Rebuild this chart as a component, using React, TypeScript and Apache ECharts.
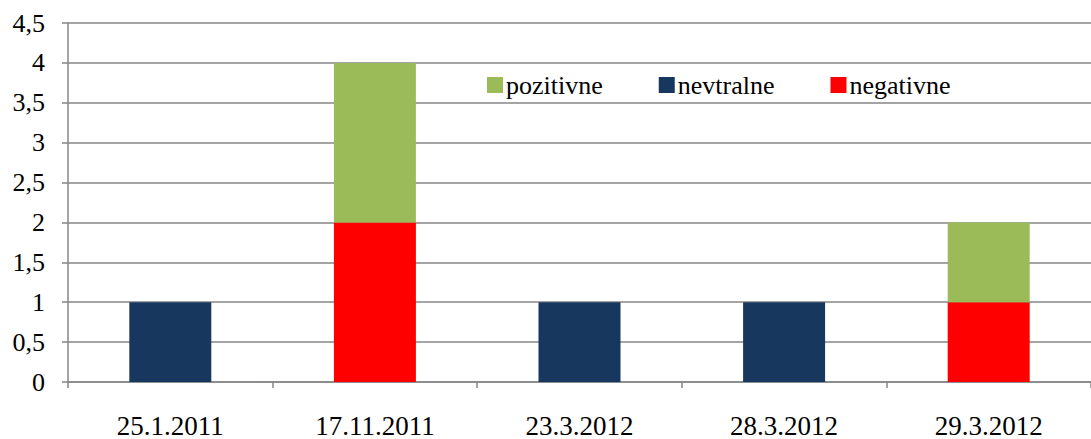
import React, { useEffect, useRef } from "react";
import * as echarts from "echarts";

const categories = ["25.1.2011", "17.11.2011", "23.3.2012", "28.3.2012", "29.3.2012"];
const negativne = [null, 2, null, null, 1];
const pozitivne = [null, 2, null, null, 1];
const nevtralne = [1, null, 1, 1, null];

const FONT = "Liberation Serif";
const GRAY = "#868686";

export default function App() {
  const ref = useRef<HTMLDivElement>(null);
  useEffect(() => {
    const chart = echarts.init(ref.current!, null, { renderer: "svg" });
    chart.setOption({
      animation: false,
      grid: { left: 68, top: 23, bottom: 52.5, right: -13, containLabel: false },
      legend: {
        left: 482,
        top: 67,
        icon: "rect",
        itemWidth: 16,
        itemHeight: 16,
        itemGap: 56,
        textStyle: { fontFamily: FONT, fontSize: 26, color: "#000", padding: [0, 0, 0, -2] },
        data: ["pozitivne", "nevtralne", "negativne"],
      },
      xAxis: {
        type: "category",
        data: categories,
        axisLine: { lineStyle: { color: GRAY, width: 1.5 } },
        axisTick: { show: true, length: 6, lineStyle: { color: GRAY, width: 1.5 } },
        axisLabel: { fontFamily: FONT, fontSize: 27, color: "#000", margin: 30 },
      },
      yAxis: {
        type: "value",
        min: 0,
        max: 4.5,
        interval: 0.5,
        axisLine: { show: true, lineStyle: { color: GRAY, width: 1.5 } },
        axisTick: { show: true, length: 6, lineStyle: { color: GRAY, width: 1.5 } },
        splitLine: { lineStyle: { color: GRAY, width: 1.5 } },
        axisLabel: {
          fontFamily: FONT,
          fontSize: 26,
          color: "#000",
          margin: 23,
          formatter: (v: number) => String(v).replace(".", ","),
        },
      },
      series: [
        { name: "negativne", type: "bar", stack: "a", barWidth: 82, data: negativne, itemStyle: { color: "#FF0000" } },
        { name: "pozitivne", type: "bar", stack: "a", barWidth: 82, data: pozitivne, itemStyle: { color: "#9BBB59" } },
        { name: "nevtralne", type: "bar", stack: "a", barWidth: 82, data: nevtralne, itemStyle: { color: "#17375E" } },
      ],
    });
    return () => chart.dispose();
  }, []);
  return <div ref={ref} style={{ width: 1091, height: 439, position: "absolute", left: 0, top: 0 }} />;
}
